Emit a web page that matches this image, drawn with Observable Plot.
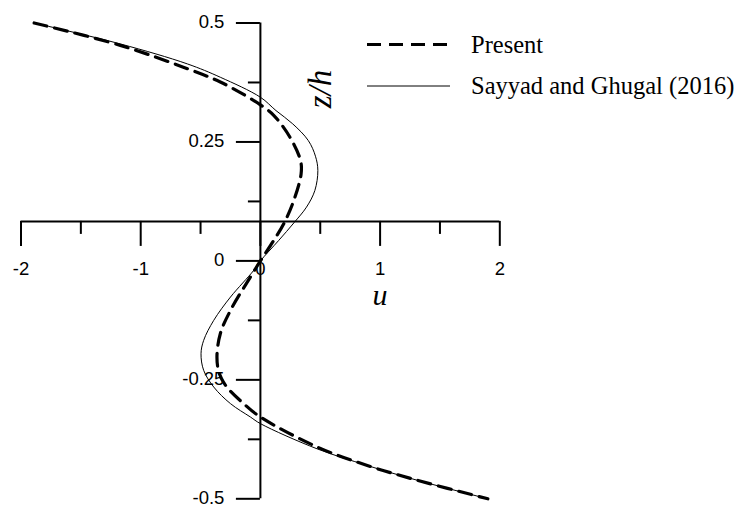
<!DOCTYPE html>
<html>
<head>
<meta charset="utf-8">
<script src="https://cdn.jsdelivr.net/npm/d3@7"></script>
<script src="https://cdn.jsdelivr.net/npm/@observablehq/plot@0.6"></script>
<style>
  html, body { margin: 0; padding: 0; background: #fff; }
  #chart { width: 747px; height: 507px; }
</style>
</head>
<body>
<div id="chart"></div>
<script>
// Through-thickness distribution of in-plane displacement u versus z/h

// Present theory (dashed)
const zPresent = [0.5, 0.453, 0.404, 0.376, 0.341, 0.328, 0.306, 0.26, 0.211, 0.183, 0.127, 0.078, 0.043, 0,
  -0.034, -0.104, -0.153, -0.202, -0.235, -0.262, -0.3, -0.328, -0.391, -0.43, -0.461, -0.5];
const uPresent = [-1.89, -1.17, -0.61, -0.335, -0.08, 0, 0.111, 0.247, 0.335, 0.34, 0.279, 0.195, 0.111, 0,
  -0.084, -0.25, -0.335, -0.363, -0.345, -0.29, -0.14, 0, 0.474, 0.893, 1.31, 1.9];

// Sayyad and Ghugal (2016) (solid)
const zSayyad = [0.5, 0.456, 0.414, 0.386, 0.344, 0.316, 0.288, 0.253, 0.22, 0.19, 0.148, 0.113, 0.08, 0.043, 0,
  -0.02, -0.076, -0.125, -0.167, -0.195, -0.23, -0.265, -0.3, -0.328, -0.342, -0.395, -0.43, -0.461, -0.5];
const uSayyad = [-1.89, -1.17, -0.61, -0.335, 0, 0.13, 0.27, 0.4, 0.46, 0.48, 0.455, 0.385, 0.28, 0.153, 0,
  -0.056, -0.25, -0.39, -0.474, -0.496, -0.474, -0.39, -0.25, -0.084, 0, 0.474, 0.893, 1.31, 1.9];

// Axes
const xDomain = [-2, 2];
const yDomain = [-0.5, 0.5];
const axisZ = 0.083;            // level where the u axis crosses
const xMajor = [-2, -1, 0, 1, 2];
const xMinor = [-1.5, -0.5, 0.5, 1.5];
const xTickText = ["-2", "-1", "0", "1", "2"];
const yMajor = [-0.5, -0.25, 0, 0.25, 0.5];
const yMinor = [-0.375, -0.125, 0.125, 0.375];
const yTickText = ["-0.5", "-0.25", "0", "0.25", "0.5"];

const seriesNames = ["Present", "Sayyad and Ghugal (2016)"];

const present = zPresent.map((z, i) => ({z, u: uPresent[i]}));
const sayyad = zSayyad.map((z, i) => ({z, u: uSayyad[i]}));

const sans = "'Liberation Sans', Arial, sans-serif";
const serif = "'Liberation Serif', 'Times New Roman', serif";

const plot = Plot.plot({
  width: 747,
  height: 507,
  marginLeft: 20.5,
  marginRight: 247.7,
  marginTop: 22.5,
  marginBottom: 8.7,
  x: {domain: xDomain, axis: null},
  y: {domain: yDomain, axis: null},
  style: {background: "#fff", color: "#000", fontFamily: sans, overflow: "visible"},
  marks: [
    // u axis line and ticks
    Plot.ruleY([axisZ], {x1: xDomain[0], x2: xDomain[1], strokeWidth: 2}),
    Plot.ruleX(xMajor, {x: d => d, y1: axisZ, y2: axisZ, insetBottom: -25, strokeWidth: 2}),
    Plot.ruleX(xMinor, {x: d => d, y1: axisZ, y2: axisZ, insetBottom: -13, strokeWidth: 2}),
    Plot.text(xMajor, {x: d => d, y: axisZ, text: (d, i) => xTickText[i], dy: 48, fontSize: 18.5}),
    // z/h axis line and ticks
    Plot.ruleX([0], {y1: yDomain[0], y2: yDomain[1], strokeWidth: 2}),
    Plot.ruleY(yMajor, {y: d => d, x1: 0, x2: 0, insetLeft: -24, strokeWidth: 2}),
    Plot.ruleY(yMinor, {y: d => d, x1: 0, x2: 0, insetLeft: -12, strokeWidth: 2}),
    Plot.text(yMajor, {x: 0, y: d => d, text: (d, i) => yTickText[i], textAnchor: "end", dx: -36, dy: -1, fontSize: 18.5}),
    // axis titles
    Plot.text(["u"], {x: 1, y: axisZ, text: d => d, dy: 74, fontSize: 30, fontStyle: "italic", fontFamily: serif}),
    Plot.text(["z/h"], {x: 0, y: yDomain[1], text: d => d, dx: 60, dy: 66, rotate: -90, fontSize: 33, fontStyle: "italic", fontFamily: serif}),
    // curves
    Plot.line(sayyad, {x: "u", y: "z", curve: "catmull-rom", stroke: "#000", strokeWidth: 1}),
    Plot.line(present, {x: "u", y: "z", curve: "catmull-rom", stroke: "#000", strokeWidth: 3.2, strokeDasharray: "13,8"})
  ]
});

document.getElementById("chart").appendChild(plot);

// Legend drawn into the same SVG
const svg = d3.select(plot);
const legend = svg.append("g")
  .attr("font-family", serif)
  .attr("font-size", 24.5)
  .attr("text-anchor", "start");
const legendRows = [
  {name: seriesNames[0], y: 44.5, width: 3.2, dash: "14,8"},
  {name: seriesNames[1], y: 86, width: 1, dash: null}
];
legendRows.forEach(r => {
  legend.append("line")
    .attr("x1", 367).attr("x2", 450)
    .attr("y1", r.y).attr("y2", r.y)
    .attr("stroke", "#000")
    .attr("stroke-width", r.width)
    .attr("stroke-dasharray", r.dash);
  legend.append("text")
    .attr("x", 471).attr("y", r.y)
    .attr("dy", "0.33em")
    .attr("text-anchor", "start")
    .attr("fill", "#000")
    .text(r.name);
});
</script>
</body>
</html>
